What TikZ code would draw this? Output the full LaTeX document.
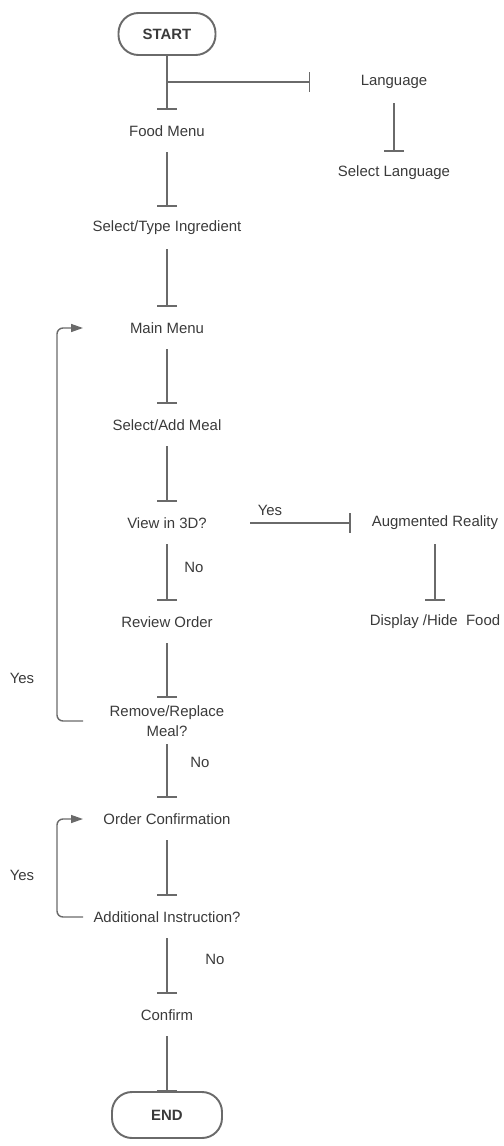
\documentclass[tikz,border=0pt]{standalone}
\usepackage{fontspec}
\setmainfont{Liberation Sans}
\usepackage{xcolor}
\usetikzlibrary{arrows.meta}
\definecolor{txtgray}{HTML}{3A3A3A}
\definecolor{lngray}{HTML}{6A6A6A}
\tikzset{
  lbl/.style={text=txtgray,font=\fontsize{8.5}{11}\selectfont,inner sep=0pt,minimum height=0.84cm,align=center},
  term/.style={draw=lngray,line width=1.1pt,rounded corners=0.4cm,text=txtgray,font=\fontsize{8.5}{10}\selectfont\bfseries},
  flow/.style={draw=lngray,line width=0.8pt,-{Bar[width=0.4cm]}},
  back/.style={draw=lngray,line width=0.8pt,rounded corners=0.12cm,-{Triangle[length=0.24cm,width=0.16cm]}},
  note/.style={text=txtgray,font=\fontsize{8.5}{10}\selectfont,inner sep=0pt}
}

\begin{document}
\begin{tikzpicture}
 \useasboundingbox (0,0) rectangle (10.08,-22.92);
 \node[term,minimum width=1.94cm,minimum height=0.84cm] (start) at (3.34,-0.68) {START};
 \node[lbl] (lang) at (7.88,-1.64) {Language};
 \node[lbl] (food) at (3.34,-2.62) {Food Menu};
 \node[lbl] (sellang) at (7.88,-3.46) {Select Language};
 \node[lbl] (ingr) at (3.34,-4.56) {Select/Type Ingredient};
 \node[lbl] (main) at (3.34,-6.56) {Main Menu};
 \node[lbl] (meal) at (3.34,-8.5) {Select/Add Meal};
 \node[lbl] (view) at (3.34,-10.46) {View in 3D?};
 \node[lbl] (ar) at (8.7,-10.46) {Augmented Reality};
 \node[lbl] (review) at (3.34,-12.44) {Review Order};
 \node[lbl] (disp) at (8.7,-12.44) {Display /Hide~ Food};
 \node[lbl,minimum height=0.92cm] (rem) at (3.34,-14.42) {Remove/Replace\\Meal?};
 \node[lbl] (conf) at (3.34,-16.38) {Order Confirmation};
 \node[lbl] (addl) at (3.34,-18.34) {Additional Instruction?};
 \node[lbl] (confirm) at (3.34,-20.3) {Confirm};
 \node[term,minimum width=2.2cm,minimum height=0.92cm] (end) at (3.34,-22.3) {END};
 \coordinate (lp) at (1.14,0);
 \coordinate (inx) at (1.66,0);

 \draw[flow] (start) -- (food);
 \draw[flow,shorten >=1cm] (start |- lang) -- (lang.west);
 \draw[flow] (lang) -- (sellang);
 \draw[flow] (food) -- (ingr);
 \draw[flow] (ingr) -- (main);
 \draw[flow] (main) -- (meal);
 \draw[flow] (meal) -- (view);
 \draw[flow,shorten <=0.86cm,shorten >=0.42cm] (view) -- (ar);
 \draw[flow] (ar) -- (disp);
 \draw[flow] (view) -- (review);
 \draw[flow] (review) -- (rem);
 \draw[flow] (rem) -- (conf);
 \draw[flow] (conf) -- (addl);
 \draw[flow] (addl) -- (confirm);
 \draw[flow] (confirm) -- (end);
 \draw[back] (rem.west -| inx) -| (lp |- main) -- (main -| inx);
 \draw[back] (addl.west -| inx) -| (lp |- conf) -- (conf -| inx);

 \node[note] (yes1) at (5.4,-10.2) {Yes};
 \node[note] (no1) at (3.88,-11.34) {No};
 \node[note] (yes2) at (0.44,-13.56) {Yes};
 \node[note] (no2) at (4.0,-15.24) {No};
 \node[note] (yes3) at (0.44,-17.5) {Yes};
 \node[note] (no3) at (4.3,-19.18) {No};
\end{tikzpicture}
\end{document}
